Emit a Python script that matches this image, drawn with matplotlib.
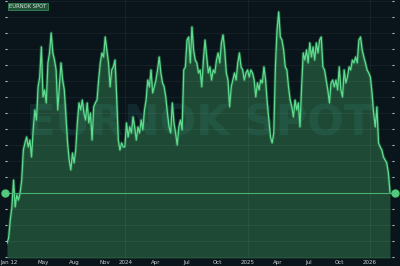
import matplotlib
matplotlib.use("Agg")
import matplotlib.pyplot as plt
from matplotlib.ticker import MultipleLocator
from matplotlib.transforms import ScaledTranslation
import pandas as pd

# EURNOK spot (roughly one sample every ~5 days)
eurnok = [
    10.688, 10.719, 10.831, 10.913, 11.081, 10.913, 10.988, 10.956, 11.000, 11.081,
    11.269, 11.313, 11.350, 11.288, 11.331, 11.225, 11.394, 11.519, 11.456, 11.663,
    11.725, 11.913, 11.600, 11.644, 11.563, 11.813, 11.875, 12.000, 11.875, 11.831,
    11.769, 11.519, 11.663, 11.813, 11.706, 11.644, 11.475, 11.313, 11.206, 11.144,
    11.250, 11.188, 11.269, 11.438, 11.563, 11.519, 11.581, 11.500, 11.456, 11.563,
    11.438, 11.500, 11.331, 11.538, 11.563, 11.581, 11.706, 11.813, 11.875, 11.850,
    11.975, 11.894, 11.813, 11.663, 11.769, 11.788, 11.831, 11.600, 11.331, 11.269,
    11.313, 11.288,
    11.288, 11.438, 11.350, 11.413, 11.375, 11.475, 11.413, 11.331, 11.413, 11.375,
    11.456, 11.394, 11.519, 11.581, 11.706, 11.663, 11.769, 11.625, 11.663, 11.706,
    11.769, 11.850, 11.750, 11.688, 11.663, 11.600, 11.500, 11.413, 11.375, 11.563,
    11.438, 11.375, 11.300, 11.413, 11.456, 11.394, 11.769, 11.788, 11.956, 11.975,
    11.813, 12.038, 11.894, 11.831, 11.813, 11.750, 11.769, 11.663, 11.831, 11.956,
    11.850, 11.750, 11.788, 11.706, 11.769, 11.750, 11.831, 11.875, 11.813, 11.938,
    11.988, 11.894, 11.750, 11.706, 11.538, 11.663, 11.706, 11.750, 11.706, 11.813,
    11.875, 11.788, 11.769, 11.706, 11.750, 11.769, 11.725, 11.769, 11.750,
    11.706, 11.600, 11.688, 11.644, 11.706, 11.688, 11.788, 11.706, 11.563, 11.456,
    11.350, 11.313, 11.375, 11.788, 12.019, 12.131, 11.975, 11.956, 11.894, 11.788,
    11.769, 11.663, 11.581, 11.538, 11.475, 11.581, 11.519, 11.563, 11.413, 11.663,
    11.875, 11.831, 11.894, 11.813, 11.938, 11.850, 11.913, 11.831, 11.938, 11.875,
    11.956, 11.975, 11.788, 11.769, 11.706, 11.644, 11.563, 11.688, 11.706, 11.663,
    11.706, 11.644, 11.788, 11.644, 11.600, 11.769, 11.688, 11.725, 11.788, 11.769,
    11.831, 11.813, 11.850, 11.813, 11.956, 11.975, 11.894, 11.850, 11.813, 11.769,
    11.750, 11.725, 11.625, 11.500, 11.413, 11.538, 11.313, 11.288, 11.269, 11.225,
    11.206, 11.188, 11.125, 11.006,
]
start, end = "2023-01-12", "2026-03-02"
last_price = 11.0

tick_dates = ["2023-01-12", "2023-05-01", "2023-08-01", "2023-11-01", "2024-01-01",
              "2024-04-01", "2024-07-01", "2024-10-01", "2025-01-01", "2025-04-01",
              "2025-07-01", "2025-10-01", "2026-01-01"]
tick_labels = ["Jan 12", "May", "Aug", "Nov", "2024", "Apr", "Jul", "Oct", "2025",
               "Apr", "Jul", "Oct", "2026"]
year_lines = ["2024-01-01", "2025-01-01", "2026-01-01"]

dates = pd.date_range(start, end, periods=len(eurnok))

bg = "#0a141b"
fig = plt.figure(figsize=(4, 2.66), dpi=100, facecolor=bg)
ax = fig.add_axes([7 / 400, 8 / 266, 385 / 400, 258 / 266])
ax.set_facecolor(bg)

ymin, ymax = 10.594, 12.206
ax.fill_between(dates, eurnok, ymin, color="#1e4a35", lw=0, zorder=1)
ax.plot(dates, eurnok, color="#2f8a52", lw=2.2, alpha=0.5, zorder=4)
ax.plot(dates, eurnok, color="#5fdc8f", lw=0.9, zorder=5)

# grid
ax.yaxis.set_major_locator(MultipleLocator(0.1))
ax.grid(axis="y", color="white", alpha=0.06, lw=0.6, zorder=3)
for d in year_lines:
    ax.axvline(pd.Timestamp(d), color="white", alpha=0.06, lw=0.6, zorder=3)

# last price line + markers
ax.axhline(last_price, color="#45b06f", lw=0.8, zorder=6)
ax.plot([-0.006, 1.008], [last_price, last_price], "o", color="#52c97c", ms=5,
        transform=ax.get_yaxis_transform(), clip_on=False, zorder=7)

# watermark
ax.text(0.5, 0.52, "EURNOK SPOT", transform=ax.transAxes, ha="center", va="center",
        fontsize=31, fontweight="bold", color="#3a9a92", alpha=0.16, zorder=2)

# title tag
ax.text(0.005, 0.985, "EURNOK SPOT", transform=ax.transAxes, ha="left", va="top",
        fontsize=3.8, color="#d8e8de", zorder=8,
        bbox=dict(boxstyle="square,pad=0.25", fc="#1f5236", ec="#3f9a62", lw=0.5))

ax.set_xlim(pd.Timestamp(start), pd.Timestamp("2026-03-08"))
ax.set_ylim(ymin, ymax)
ax.set_xticks([pd.Timestamp(d) for d in tick_dates])
ax.set_xticklabels(tick_labels)
ax.tick_params(axis="x", length=0, pad=1.5, labelsize=4, labelcolor="#c9d0d4")
ax.tick_params(axis="y", left=True, right=True, direction="out", length=1.5,
               width=0.8, color="#b8c0c4", labelleft=False, labelright=False)
# first label sits at the left edge
first = ax.get_xticklabels()[0]
first.set_ha("left")
first.set_transform(first.get_transform() + ScaledTranslation(-7 / 100, 0, fig.dpi_scale_trans))
for s in ax.spines.values():
    s.set_visible(False)

fig.savefig("out.png", dpi=100, facecolor=bg)
